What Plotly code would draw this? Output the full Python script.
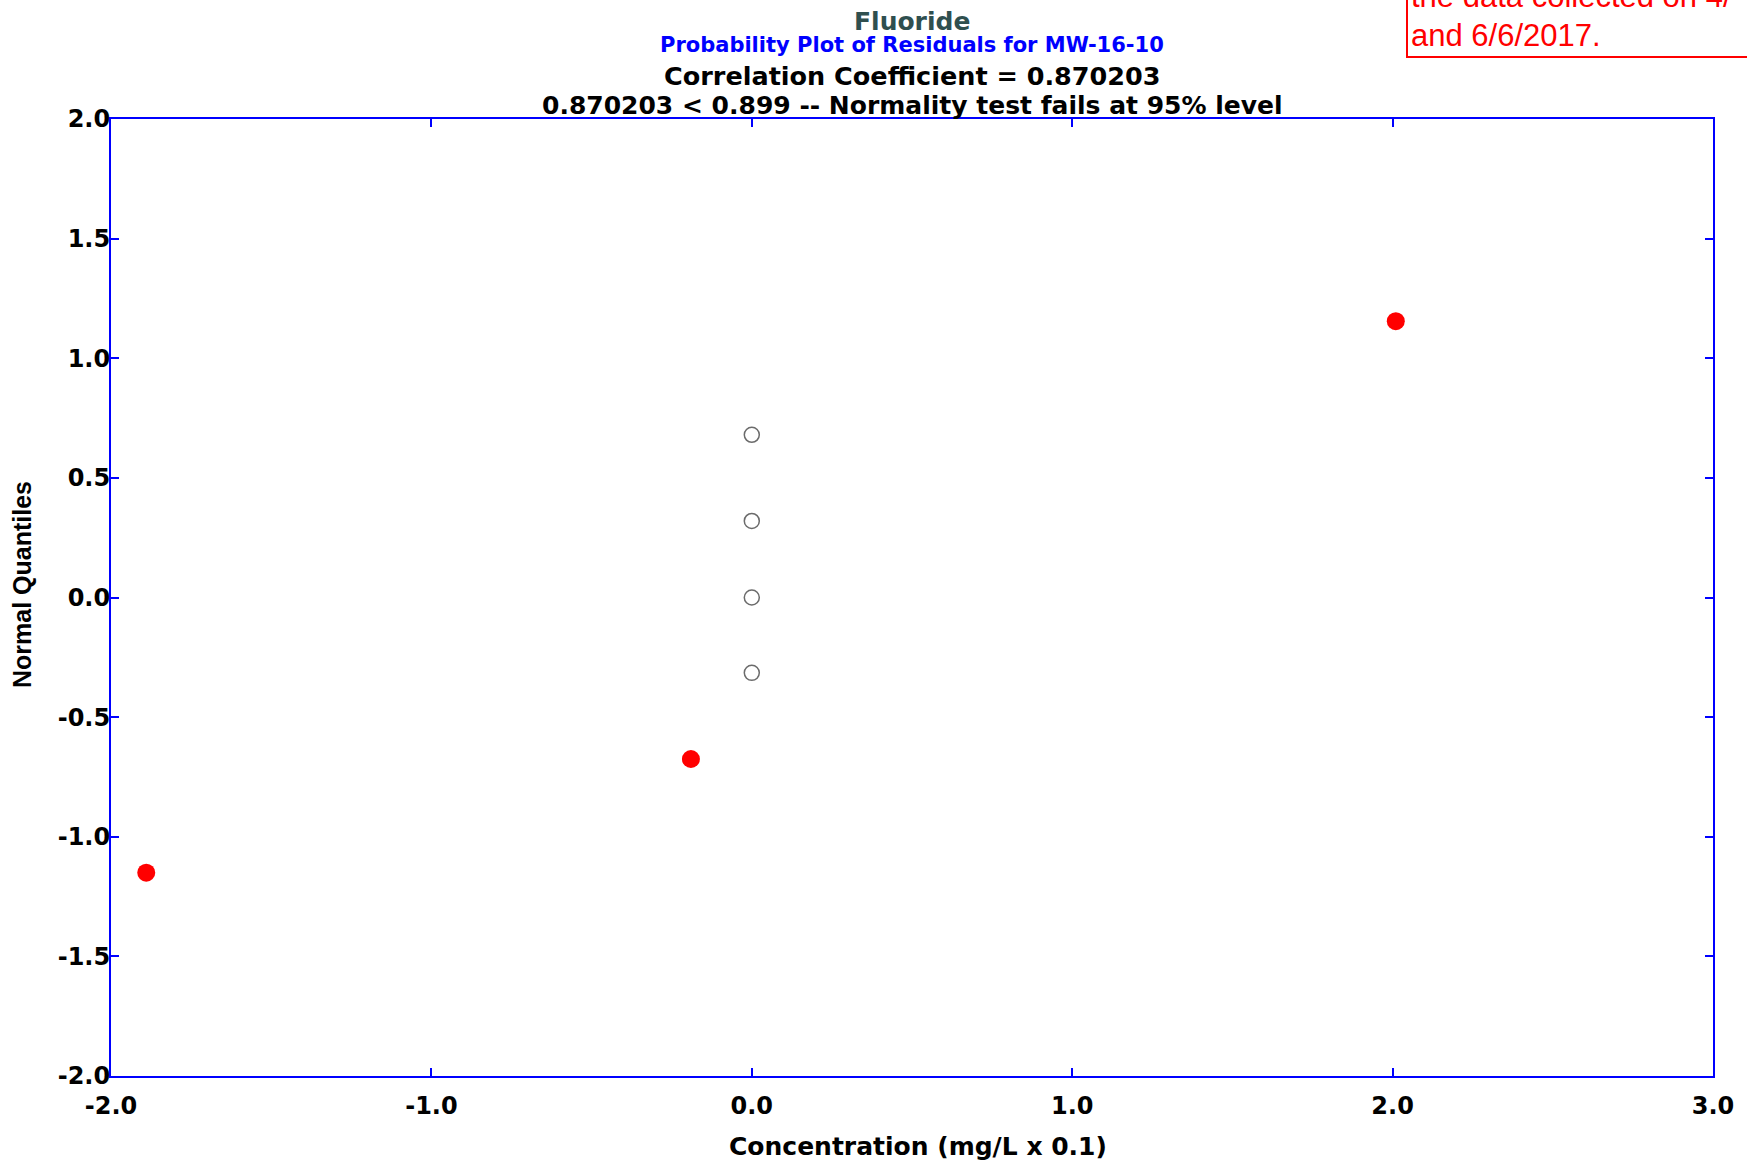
import plotly.graph_objects as go

# ---- data ----
detected_x = [-1.89, -0.19, 2.01]
detected_q = [-1.15, -0.675, 1.155]
nondetect_x = [0.0, 0.0, 0.0, 0.0]
nondetect_q = [-0.315, 0.0, 0.32, 0.68]

x_tickvals = [-2, -1, 0, 1, 2, 3]
x_ticktext = ["-2.0", "-1.0", "0.0", "1.0", "2.0", "3.0"]
y_tickvals = [-2.0, -1.5, -1.0, -0.5, 0.0, 0.5, 1.0, 1.5, 2.0]
y_ticktext = ["-2.0", "-1.5", "-1.0", "-0.5", "0.0", "0.5", "1.0", "1.5", "2.0"]

title_main = "Fluoride"
title_sub = "Probability Plot of Residuals for MW-16-10"
title_corr = "Correlation Coefficient = 0.870203"
title_test = "0.870203 < 0.899 -- Normality test fails at 95% level"
x_title = "Concentration (mg/L x 0.1)"
y_title = "Normal Quantiles"
note_lines = ["the data collected on 4/", "and 6/6/2017."]

# ---- layout geometry (pixels) ----
W, H = 1747, 1165
L, R, T, B = 111, 34, 119, 89
PW, PH = W - L - R, H - T - B


def px_x(px):
    return (px - L) / PW


def px_y(py):
    return (H - B - py) / PH


fig = go.Figure()
fig.add_trace(go.Scatter(
    x=nondetect_x, y=nondetect_q, mode="markers",
    marker=dict(symbol="circle-open", size=15, color="#6b6b6b", line=dict(width=1.5, color="#6b6b6b")),
    showlegend=False, hoverinfo="skip"))
fig.add_trace(go.Scatter(
    x=detected_x, y=detected_q, mode="markers",
    marker=dict(symbol="circle", size=18, color="#ff0000"),
    showlegend=False, hoverinfo="skip"))

tickfont = dict(family="DejaVu Sans", size=24, color="black", weight="bold")
axis_common = dict(showgrid=False, zeroline=False, showline=True, linecolor="#0000ff", linewidth=2,
                   mirror="ticks", ticks="inside", ticklen=8, tickwidth=1.5, tickcolor="#0000ff",
                   tickfont=tickfont)
fig.update_xaxes(range=[-2, 3], tickvals=x_tickvals, ticktext=x_ticktext,
                 ticklabelstandoff=7, **axis_common)
fig.update_yaxes(range=[-2, 2], tickvals=y_tickvals, ticktext=y_ticktext,
                 ticklabelstandoff=-6, **axis_common)

ann = []


def add_text(text, cx, cy, size, color, family="DejaVu Sans", weight="bold", xanchor="center", angle=0):
    ann.append(dict(text=text, xref="paper", yref="paper", x=px_x(cx), y=px_y(cy),
                    xanchor=xanchor, yanchor="middle", showarrow=False, textangle=angle,
                    font=dict(family=family, size=size, color=color, weight=weight), borderpad=0))


cx_plot = L + PW / 2
add_text(title_main, cx_plot, 31 - 0.36 * 25, 25, "#2f4f4f")
add_text(title_sub, cx_plot, 53 - 0.36 * 21, 21, "#0000ff")
add_text(title_corr, cx_plot, 85 - 0.36 * 25.5, 25.5, "black")
add_text(title_test, cx_plot, 115 - 0.36 * 25, 25, "black")
add_text(x_title, 918, 1155 - 0.36 * 25, 25, "black")
add_text(y_title, 22, 585, 25, "black", family="Liberation Sans", angle=-90)
add_text(note_lines[0], 1410, 7.3 - 0.36 * 31, 31, "#ff0000", family="Liberation Sans", weight="normal", xanchor="left")
add_text(note_lines[1], 1410, 46.7 - 0.36 * 31, 31, "#ff0000", family="Liberation Sans", weight="normal", xanchor="left")

fig.update_layout(
    width=W, height=H, autosize=False,
    margin=dict(l=L, r=R, t=T, b=B),
    paper_bgcolor="white", plot_bgcolor="white",
    annotations=ann,
    shapes=[dict(type="rect", xref="paper", yref="paper",
                 x0=px_x(1407), x1=px_x(1800), y0=px_y(57), y1=px_y(-60),
                 line=dict(color="#ff0000", width=2), fillcolor="rgba(0,0,0,0)")],
)

fig.write_html(
    "out.html",
    config={"displayModeBar": False},
    post_script="document.body.style.margin='0';document.body.style.padding='0';"
                "document.documentElement.style.overflow='hidden';",
)
